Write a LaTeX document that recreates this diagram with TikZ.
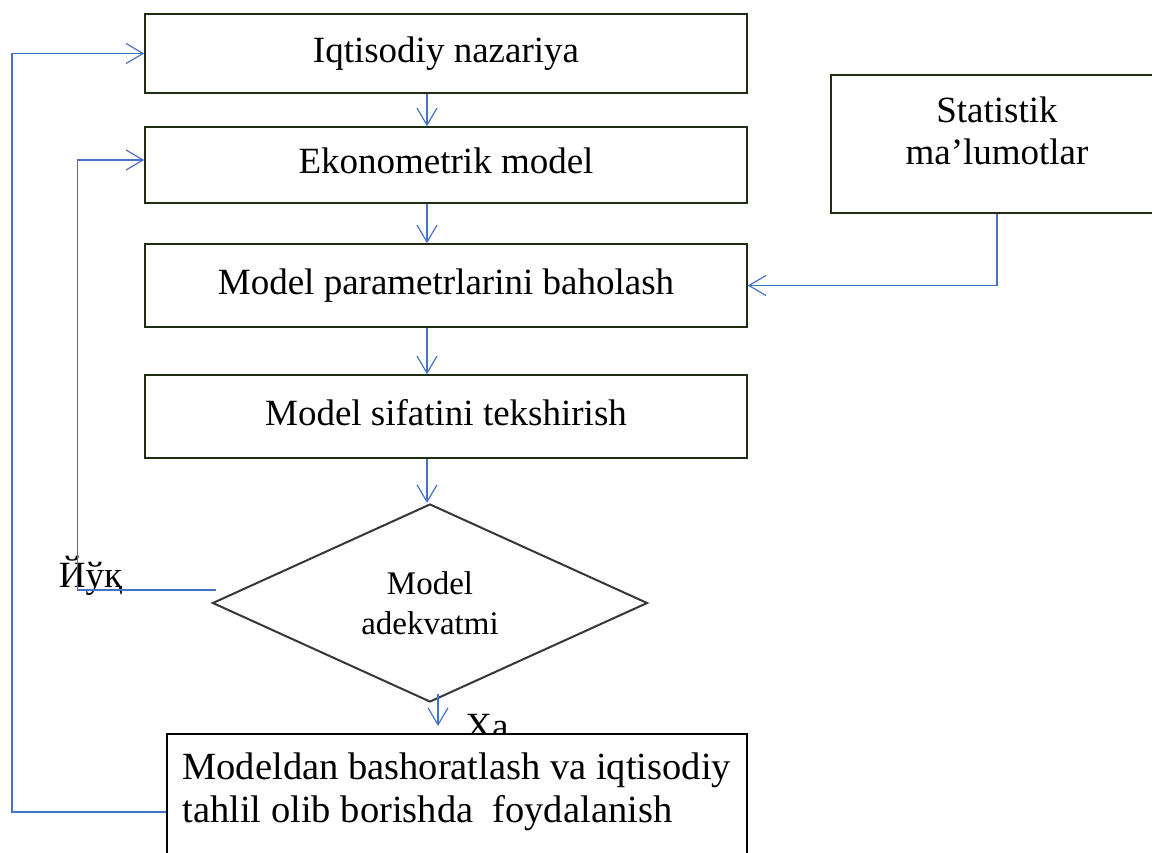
\documentclass[tikz,border=0pt]{standalone}
\usepackage{fontspec}
\setmainfont{Liberation Serif}
\usetikzlibrary{arrows.meta,shapes.geometric}

\definecolor{flowblue}{RGB}{68,114,196}
\definecolor{boxline}{RGB}{30,45,20}
\definecolor{diamline}{RGB}{55,55,55}

\begin{document}
\begin{tikzpicture}[x=1pt,y=-1pt,>={Straight Barb[length=17pt,width=20pt]},
	box/.style={draw=boxline,line width=1.5pt,fill=white,inner sep=0pt,minimum width=602pt,font=\fontsize{37}{42}\selectfont,text height=25pt,text depth=8pt},
	sheet/.style={draw=boxline,line width=1.5pt,fill=white,inner xsep=0pt,font=\fontsize{37}{42}\selectfont},
	decision/.style={diamond,aspect=2.2,draw=diamline,line width=2pt,inner sep=0pt,minimum width=435pt,minimum height=198pt,align=center,font=\fontsize{33}{40}\selectfont},
	flow/.style={->,color=flowblue,line width=1.2pt},
	answer/.style={anchor=base,font=\fontsize{37}{42}\selectfont}]

\useasboundingbox (0,0) rectangle (1152,852);
\clip (0,0) rectangle (1152,852);

\node (theory) at (446,53.5) [box,minimum height=79pt] {Iqtisodiy nazariya};
\node (model) at (446,165) [box,minimum height=76pt] {Ekonometrik model};
\node (estimate) at (446,285.5) [box,minimum height=83pt] {Model parametrlarini baholash};
\node (quality) at (446,416.5) [box,minimum height=83pt] {Model sifatini tekshirish};

\node (stat) at (997,74) [sheet,anchor=north,minimum width=332pt,inner ysep=21.7pt,align=center,text depth=27pt] {Statistik\\ma’lumotlar};

\node (check) at (430,603) [decision] {Model\\adekvatmi};

\node (no) at (90.5,587) [answer] {Йўқ};
\node (yes) at (487,738) [answer] {Ха};

\node (forecast) at (166,733) [sheet,draw=black,anchor=north west,minimum width=580pt,inner ysep=19pt,align=left,text depth=60pt,font=\fontsize{38.5}{43}\selectfont] {Modeldan bashoratlash va iqtisodiy\\tahlil olib borishda~ foydalanish};

\coordinate (spine) at (427,0);

\draw[flow] (theory.south -| spine) -- (model.north -| spine);
\draw[flow] (model.south -| spine) -- (estimate.north -| spine);
\draw[flow] (estimate.south -| spine) -- (quality.north -| spine);
\draw[flow] (quality.south -| spine) -- (check.north -| spine);

\draw[flow] (stat.south) |- (estimate.east);

\draw[flow] ([xshift=4pt,yshift=13pt]check.west) -- ++(-138,0) |- ([yshift=5pt]model.west);
\draw[flow] ([xshift=8pt,yshift=9pt]check.south) -- ([xshift=8pt,yshift=7pt]check.south |- forecast.north);
\draw[flow] ([yshift=-79pt]forecast.north west) -- ++(-154,0) |- (theory.west);

\end{tikzpicture}
\end{document}
